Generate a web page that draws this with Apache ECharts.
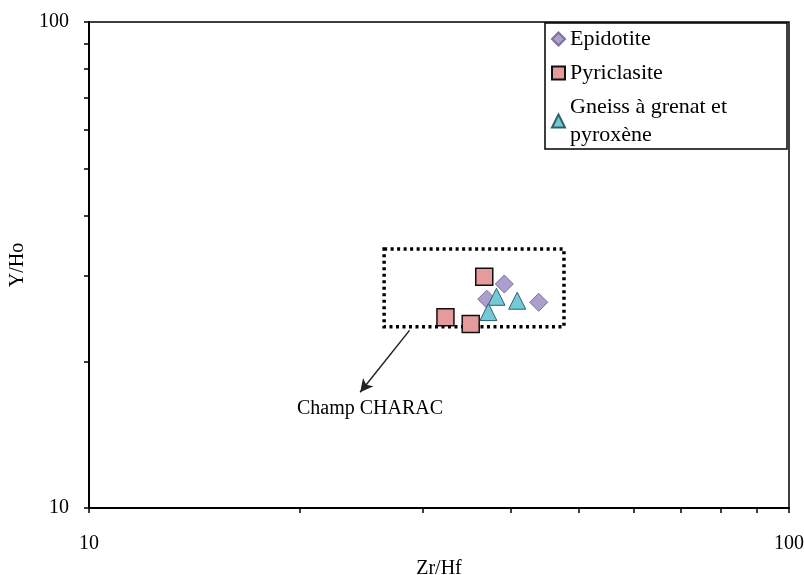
<!DOCTYPE html>
<html>
<head>
<meta charset="utf-8">
<script src="https://cdn.jsdelivr.net/npm/echarts@6/dist/echarts.min.js"></script>
<style>
  html, body { margin: 0; padding: 0; background: #fff; }
  #main { width: 804px; height: 575px; }
</style>
</head>
<body>
<div id="main"></div>
<script>
var epidotite = [[39.2, 28.9], [37.0, 26.9], [43.9, 26.5]];
var pyriclasite = [[36.7, 29.9], [32.3, 24.7], [35.1, 23.9]];
var gneiss = [[38.2, 27.2], [40.9, 26.7], [37.2, 25.3]];

var seriesNames = ['Epidotite', 'Pyriclasite', 'Gneiss à grenat et\npyroxène'];
var tickValues = [10, 20, 30, 40, 50, 60, 70, 80, 90, 100];
var labelValues = [10, 100];

// champ CHARAC (cadre pointillé) et flèche
var characBox = [[26.4, 34.1], [47.7, 23.6]];
var arrowLine = [[28.7, 23.2], [24.4, 17.3]];

var serif = 'Liberation Serif';

var chart = echarts.init(document.getElementById('main'));

function logAxis(name) {
    return {
        type: 'log',
        logBase: 10,
        min: 10,
        max: 100,
        name: name,
        nameLocation: 'middle',
        nameTextStyle: { fontFamily: serif, fontSize: 20, color: '#000' },
        axisLine: { show: true, lineStyle: { color: '#000', width: 2 } },
        axisTick: { show: true, inside: false, length: 5, customValues: tickValues, lineStyle: { color: '#000', width: 1.5 } },
        axisLabel: { customValues: labelValues, fontFamily: serif, fontSize: 20, color: '#000' },
        splitLine: { show: false },
        minorTick: { show: false }
    };
}

var xAxis = logAxis('Zr/Hf');
xAxis.nameGap = 42;
xAxis.axisLabel.margin = 26;

var yAxis = logAxis('Y/Ho');
yAxis.nameGap = 56;
yAxis.axisLabel.margin = 20;

var option = {
    backgroundColor: '#fff',
    animation: false,
    grid: {
        left: 89, right: 15, top: 22, bottom: 67,
        outerBoundsMode: 'none',
        containLabel: false,
        show: true, borderColor: '#000', borderWidth: 1.5
    },
    xAxis: xAxis,
    yAxis: yAxis,
    legend: {
        data: seriesNames,
        orient: 'vertical',
        left: 545,
        top: 23,
        itemWidth: 13,
        itemHeight: 13,
        itemGap: 6,
        padding: [2, 60, 0, 6],
        borderColor: '#000',
        borderWidth: 1.5,
        backgroundColor: '#fff',
        textStyle: { fontFamily: serif, fontSize: 22, color: '#000', lineHeight: 28 }
    },
    series: [
        {
            name: 'CHARAC',
            type: 'scatter',
            data: [],
            silent: true,
            markArea: {
                silent: true,
                itemStyle: { color: 'rgba(0,0,0,0)', borderColor: '#000', borderWidth: 3.5, borderType: [3, 3.5] },
                data: [[{ coord: characBox[0] }, { coord: characBox[1] }]]
            },
            markLine: {
                silent: true,
                symbol: ['none', 'arrow'],
                symbolSize: [10, 13],
                label: { show: false },
                lineStyle: { color: '#222', width: 1.5, type: 'solid' },
                data: [[{ coord: arrowLine[0] }, { coord: arrowLine[1] }]]
            }
        },
        {
            name: seriesNames[0],
            type: 'scatter',
            symbol: 'diamond',
            symbolSize: 18,
            data: epidotite,
            itemStyle: { color: '#ad9fcd', borderColor: '#7d6f9e', borderWidth: 1, opacity: 1 }
        },
        {
            name: seriesNames[1],
            type: 'scatter',
            symbol: 'rect',
            symbolSize: 17,
            data: pyriclasite,
            itemStyle: { color: '#e59b99', borderColor: '#111', borderWidth: 1.5, opacity: 1 }
        },
        {
            name: seriesNames[2],
            type: 'scatter',
            symbol: 'triangle',
            symbolSize: 17,
            data: gneiss,
            itemStyle: { color: '#74c9d6', borderColor: '#2f5f6c', borderWidth: 1, opacity: 1 }
        }
    ],
    graphic: [
        {
            type: 'text',
            left: 297,
            top: 399,
            style: { text: 'Champ CHARAC', fontFamily: serif, fontSize: 20, fill: '#000' }
        }
    ]
};

chart.setOption(option);
</script>
</body>
</html>
